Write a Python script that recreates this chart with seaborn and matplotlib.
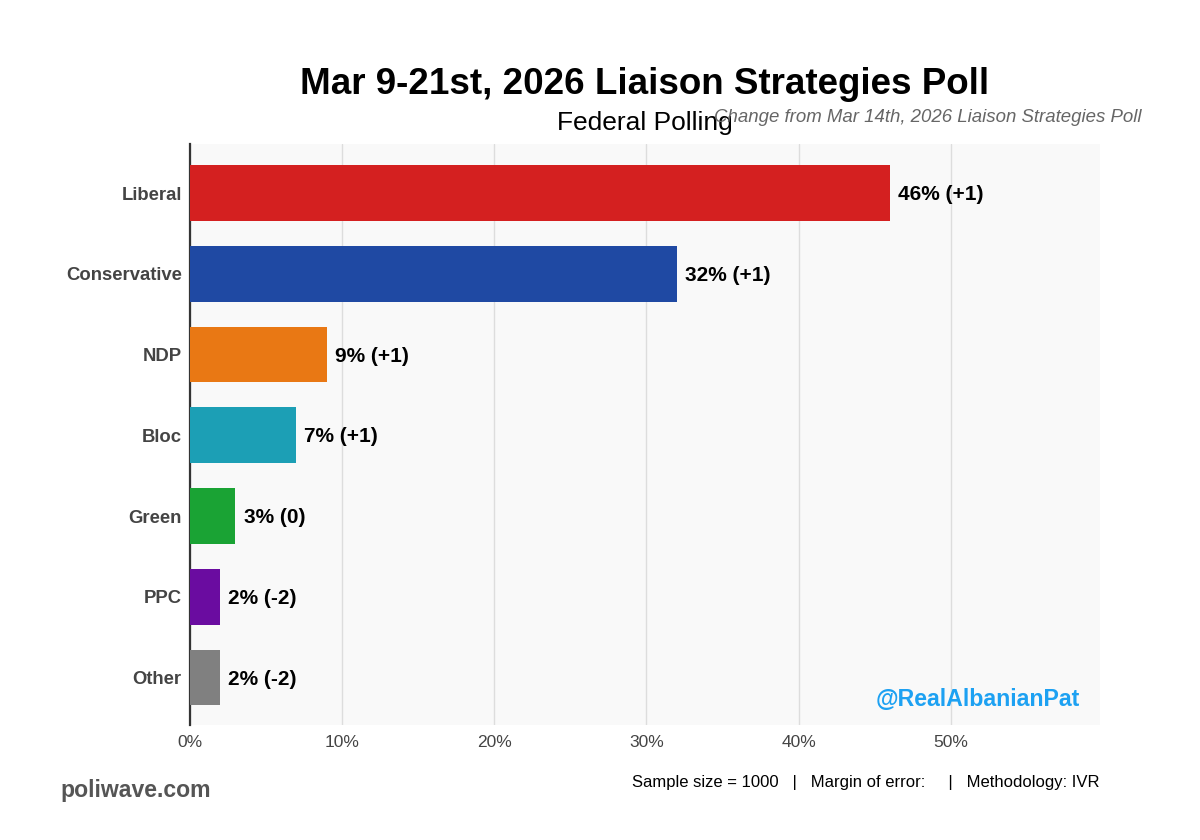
import seaborn as sns
import matplotlib.pyplot as plt
import pandas as pd

parties = ["Liberal", "Conservative", "NDP", "Bloc", "Green", "PPC", "Other"]
support = [46, 32, 9, 7, 3, 2, 2]
changes = ["+1", "+1", "+1", "+1", "0", "-2", "-2"]
colors = ["#d42020", "#1f49a3", "#e97814", "#1c9fb5", "#1aa334", "#6a0ca0", "#808080"]
x_ticks = [0, 10, 20, 30, 40, 50]

df = pd.DataFrame({"party": parties, "support": support})

sns.set_theme(style="white")
plt.rcParams["font.family"] = ["Liberation Sans", "DejaVu Sans"]

fig = plt.figure(figsize=(12, 8.4), dpi=100)
ax = fig.add_axes([189.5 / 1200, 1 - 725 / 840, 910.5 / 1200, 581 / 840])
ax.set_facecolor("#f9f9f9")

sns.barplot(data=df, x="support", y="party", hue="party", palette=colors,
            legend=False, width=0.69, saturation=1, linewidth=0, ax=ax, zorder=3)

ax.set_xlim(0, 59.8)
ax.set_ylim(6.588, -0.607)
ax.set_xticks(x_ticks)
ax.set_xticklabels(["{}%".format(t) for t in x_ticks], fontsize=12.5, color="#444444")
ax.set_xlabel("")
ax.set_ylabel("")
ax.tick_params(axis="y", length=0, pad=5.5)
ax.tick_params(axis="x", length=0, pad=7)
for label in ax.get_yticklabels():
    label.set_fontsize(13.3)
    label.set_fontweight("bold")
    label.set_color("#444444")

ax.grid(axis="x", color="#dddddd", linewidth=1, zorder=0)
ax.set_axisbelow(True)
for side in ["top", "right", "bottom"]:
    ax.spines[side].set_visible(False)
ax.spines["left"].set_color("#333333")
ax.spines["left"].set_linewidth(1.6)

for i, (val, ch) in enumerate(zip(support, changes)):
    ax.text(val + 0.55, i + 0.02, "{}% ({})".format(val, ch), va="center", ha="left",
            fontsize=15, fontweight="bold", color="black", zorder=4)

fig.text(645 / 1200, 1 - 84 / 840, "Mar 9-21st, 2026 Liaison Strategies Poll",
         ha="center", va="center", fontsize=26.5, fontweight="bold", color="black")
fig.text(645 / 1200, 1 - 123 / 840, "Federal Polling", ha="center", va="center",
         fontsize=19, color="black")
fig.text(1141 / 1200, 1 - 118 / 840, "Change from Mar 14th, 2026 Liaison Strategies Poll",
         ha="right", va="center", fontsize=13.4, style="italic", color="#666666")
fig.text(1080 / 1200, 1 - 699 / 840, "@RealAlbanianPat", ha="right", va="center",
         fontsize=16.7, fontweight="bold", color="#1da1f2")
fig.text(60 / 1200, 1 - 791 / 840, "poliwave.com", ha="left", va="center",
         fontsize=16.6, fontweight="bold", color="#555555")
fig.text(1100 / 1200, 1 - 782 / 840, "Sample size = 1000   |   Margin of error:     |   Methodology: IVR",
         ha="right", va="center", fontsize=12, color="black")

fig.savefig("out.png", dpi=100, facecolor="white")
